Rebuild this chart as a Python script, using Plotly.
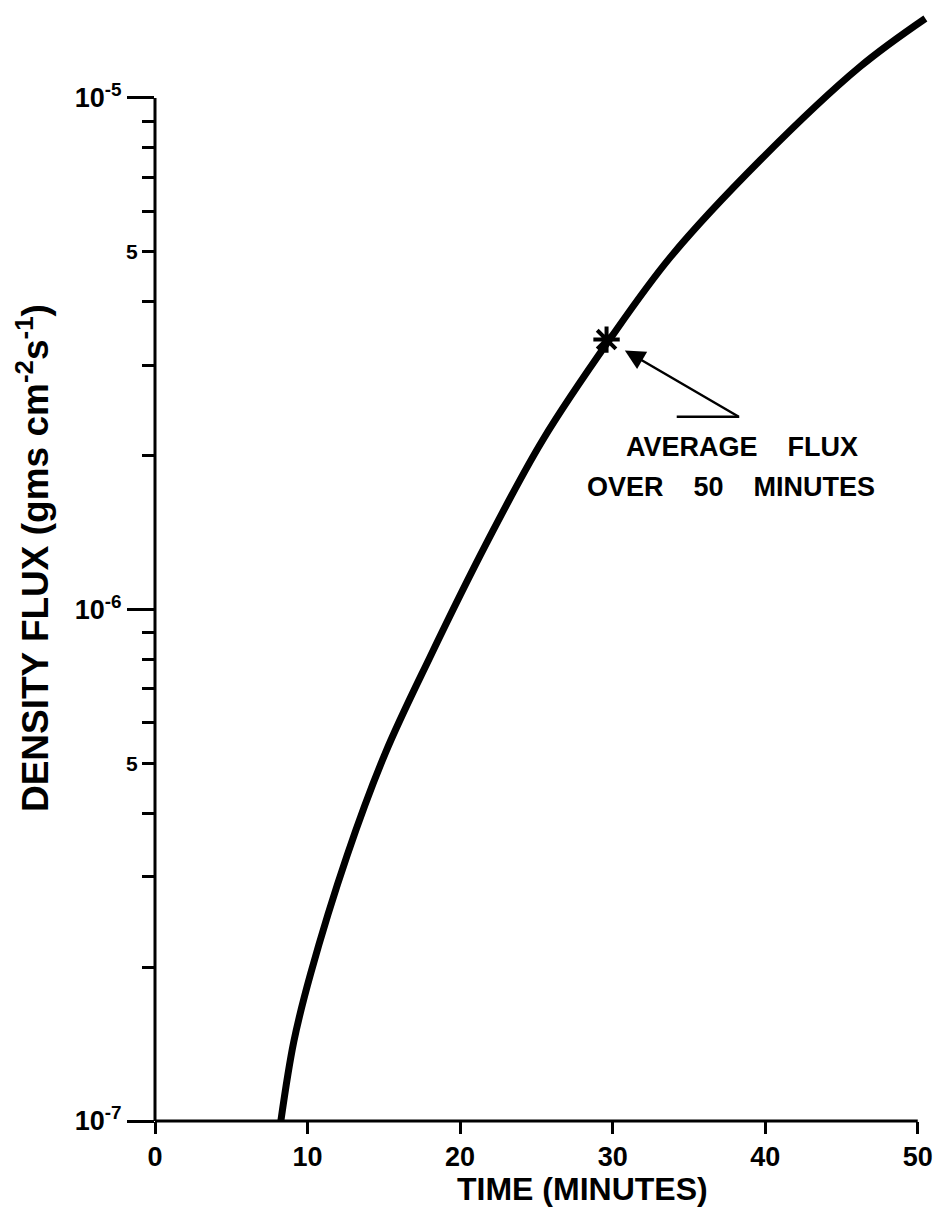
import plotly.graph_objects as go
import math

# ---- data ----
time_min = [8.25, 9.1, 10.2, 12.6, 15.1, 18.0, 21.8, 25.4, 29.8, 33.8, 39.7,
            46.2, 50.5]
flux = [1.0e-7, 1.43e-7, 1.94e-7, 3.31e-7, 5.24e-7, 8.04e-7, 1.36e-6, 2.14e-6,
        3.37e-6, 4.89e-6, 7.57e-6, 1.15e-5, 1.43e-5]

avg_time = [29.6]
avg_flux = [3.37e-6]

x_tickvals = [0, 10, 20, 30, 40, 50]
x_ticktext = ["0", "10", "20", "30", "40", "50"]
y_decades = [1e-7, 1e-6, 1e-5]
y_decade_text = ["10<sup>-7</sup>", "10<sup>-6</sup>", "10<sup>-5</sup>"]
y_five = [5e-7, 5e-6]
y_five_text = ["5", "5"]
y_minor = [m * d for d in (1e-7, 1e-6) for m in (2, 3, 4, 6, 7, 8, 9)]

FONT = "Liberation Sans"
BLACK = "black"


def f(size):
    return dict(family=FONT, size=size, color=BLACK, weight="bold")


fig = go.Figure()
fig.add_trace(go.Scatter(
    x=time_min, y=flux, mode="lines",
    line=dict(color=BLACK, width=7, shape="spline", smoothing=1.0),
    showlegend=False, hoverinfo="skip"))
fig.add_trace(go.Scatter(
    x=avg_time, y=avg_flux, mode="markers", yaxis="y2",
    marker=dict(symbol="asterisk-open", size=22, color=BLACK,
                line=dict(color=BLACK, width=4)),
    showlegend=False, hoverinfo="skip"))

yr = [-7, -4.83]
fig.update_layout(
    width=934, height=1204,
    margin=dict(l=147, r=9, t=3, b=91),
    paper_bgcolor="white", plot_bgcolor="white",
    font=dict(family=FONT, color=BLACK),
    xaxis=dict(range=[0, 51], tickvals=x_tickvals, ticktext=x_ticktext,
               ticks="outside", ticklen=12, tickwidth=3, tickcolor=BLACK,
               showgrid=False, zeroline=False, showline=False,
               tickfont=f(27)),
    yaxis=dict(type="log", range=yr, tickvals=y_decades, ticktext=y_decade_text,
               ticks="outside", ticklen=27, tickwidth=3, tickcolor=BLACK,
               showgrid=False, zeroline=False, showline=False,
               tickfont=f(27),
               minor=dict(tickmode="array", tickvals=y_minor, ticks="outside",
                          ticklen=12, tickwidth=3, tickcolor=BLACK, showgrid=False)),
    yaxis2=dict(type="log", range=yr, overlaying="y", side="left", anchor="x",
                tickvals=y_five, ticktext=y_five_text,
                ticks="outside", ticklen=12, tickwidth=3, tickcolor=BLACK,
                showgrid=False, zeroline=False, showline=False,
                tickfont=f(21)),
)

# axis lines (only over the labelled span 0-50 and 1e-7 .. 1e-5)
fig.add_shape(type="line", xref="x", yref="paper", x0=0, x1=50, y0=0, y1=0,
              line=dict(color=BLACK, width=3))
fig.add_shape(type="line", xref="paper", yref="y", x0=0, x1=0,
              y0=y_decades[0], y1=y_decades[-1], line=dict(color=BLACK, width=3))

# arrow pointing to the average-flux star
tip_t, tip_f = 30.8, 3.21e-6
fig.add_annotation(x=tip_t, y=math.log10(tip_f), xref="x", yref="y", text="",
                   showarrow=True, ax=115, ay=67, arrowhead=2, arrowsize=1.6,
                   arrowwidth=2.5, arrowcolor=BLACK)
fig.add_shape(type="line", xref="x", yref="y", x0=34.2, x1=38.3,
              y0=2.38e-6, y1=2.38e-6, line=dict(color=BLACK, width=2.5))

fig.add_annotation(x=0.754, y=0.607, xref="paper", yref="paper",
                   text="AVERAGE    FLUX", showarrow=False, font=f(27),
                   xanchor="center", yanchor="middle")
fig.add_annotation(x=0.740, y=0.571, xref="paper", yref="paper",
                   text="OVER    50    MINUTES", showarrow=False, font=f(27),
                   xanchor="center", yanchor="middle")

# axis titles
fig.add_annotation(x=0.549, y=-0.061, xref="paper", yref="paper",
                   text="TIME (MINUTES)", showarrow=False, font=f(32),
                   xanchor="center", yanchor="middle")
fig.add_annotation(x=-0.157, y=0.507, xref="paper", yref="paper",
                   text="DENSITY FLUX (gms cm<sup>-2</sup>s<sup>-1</sup>)",
                   textangle=-90, showarrow=False, font=f(37),
                   xanchor="center", yanchor="middle")

fig.write_html("out.html")
